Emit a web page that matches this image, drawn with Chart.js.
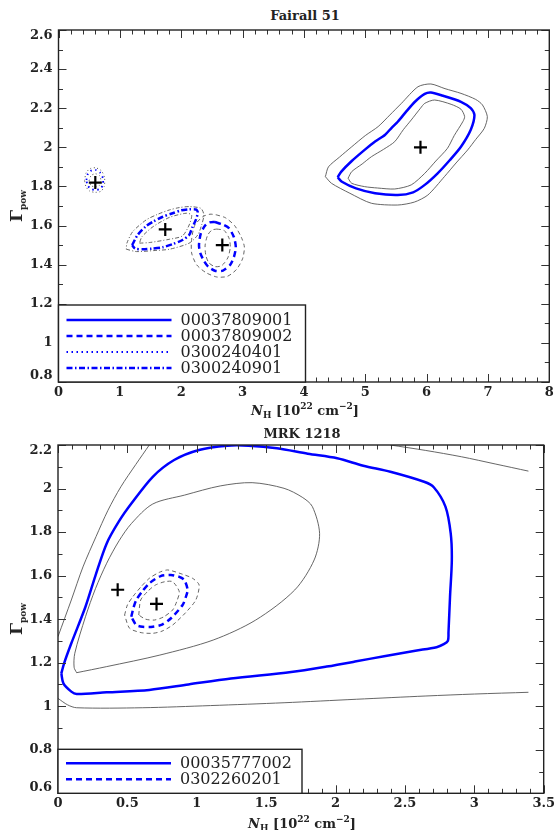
<!DOCTYPE html>
<html>
<head>
<meta charset="utf-8">
<script src="https://cdn.jsdelivr.net/npm/chart.js@4.4.0/dist/chart.umd.min.js"></script>
<style>
    body { margin: 0; background: #fff; }
    #wrap { position: relative; width: 558px; height: 830px; font-family: 'DejaVu Serif', serif; color: #222; }
    canvas { position: absolute; left: 0; }
    .lbl { position: absolute; transform: translate(-50%, -50%); white-space: nowrap; font-weight: bold; }
    .title { font-size: 13px; }
    .xlab { font-size: 13px; }
    .ylab { font-size: 17px; transform: translate(-50%, -50%) rotate(-90deg); }
    sub, sup { font-size: 9px; line-height: 0; }
</style>
</head>
<body>
<div id="wrap">
    <div class="lbl title" style="left:305px; top:15px;">Fairall 51</div>
    <canvas id="topChart" width="558" height="410" style="top:0"></canvas>
    <div class="lbl ylab" style="left:16px; top:206px;">&Gamma;<sub>pow</sub></div>
    <div class="lbl xlab" style="left:305px; top:410px;"><i>N</i><sub>H</sub> [10<sup>22</sup> cm<sup>&minus;2</sup>]</div>

    <div class="lbl title" style="left:302px; top:433px;">MRK 1218</div>
    <canvas id="bottomChart" width="558" height="420" style="top:410px"></canvas>
    <div class="lbl ylab" style="left:16px; top:619px;">&Gamma;<sub>pow</sub></div>
    <div class="lbl xlab" style="left:302px; top:823px;"><i>N</i><sub>H</sub> [10<sup>22</sup> cm<sup>&minus;2</sup>]</div>
</div>
<script>
// ---- Fairall 51 ----
const topXTicks = [0, 1, 2, 3, 4, 5, 6, 7, 8];
const topYTicks = [0.8, 1, 1.2, 1.4, 1.6, 1.8, 2, 2.2, 2.4, 2.6];
const topLegend = ['00037809001', '00037809002', '0300240401', '0300240901'];
const topBestFit = [[0.6, 1.82], [1.74, 1.58], [2.67, 1.50], [5.9, 2.0]];

// 00037809001 (solid)
const fa1Blue = [[4.55,1.847],[4.61,1.876],[4.78,1.93],[4.99,1.987],[5.16,2.03],[5.32,2.063],[5.43,2.10],[5.53,2.131],[5.66,2.18],[5.81,2.233],[5.97,2.273],[6.07,2.28],[6.25,2.265],[6.56,2.233],[6.72,2.20],[6.78,2.165],[6.72,2.09],[6.56,2.003],[6.38,1.935],[6.18,1.867],[5.97,1.808],[5.78,1.77],[5.53,1.756],[5.16,1.765],[4.85,1.79],[4.62,1.824],[4.55,1.847]];
const fa1Outer = [[4.35,1.85],[4.40,1.90],[4.58,1.95],[4.78,2.003],[5.00,2.06],[5.21,2.106],[5.40,2.165],[5.59,2.225],[5.86,2.31],[6.07,2.324],[6.30,2.30],[6.56,2.276],[6.80,2.245],[6.91,2.217],[6.99,2.157],[6.94,2.097],[6.80,2.04],[6.67,1.987],[6.48,1.92],[6.29,1.85],[6.02,1.756],[5.80,1.72],[5.53,1.705],[5.10,1.714],[4.75,1.765],[4.45,1.816],[4.35,1.85]];
const fa1Inner = [[4.72,1.842],[4.78,1.876],[4.95,1.915],[5.10,1.952],[5.30,1.99],[5.48,2.029],[5.62,2.09],[5.75,2.14],[5.90,2.20],[5.97,2.225],[6.13,2.242],[6.40,2.22],[6.56,2.195],[6.62,2.157],[6.59,2.131],[6.45,2.06],[6.34,1.995],[6.15,1.93],[5.97,1.867],[5.75,1.808],[5.48,1.787],[5.20,1.792],[4.99,1.799],[4.78,1.816],[4.72,1.842]];

// 00037809002 (dashed)
const fa2Blue = [[2.55,1.618],[2.68,1.605],[2.78,1.586],[2.86,1.54],[2.89,1.49],[2.86,1.44],[2.80,1.40],[2.68,1.37],[2.56,1.368],[2.44,1.39],[2.37,1.42],[2.31,1.46],[2.29,1.50],[2.32,1.56],[2.39,1.60],[2.46,1.616],[2.55,1.618]];
const fa2Outer = [[2.57,1.655],[2.72,1.64],[2.87,1.60],[2.98,1.54],[3.03,1.49],[3.00,1.43],[2.90,1.375],[2.75,1.34],[2.58,1.337],[2.40,1.36],[2.25,1.40],[2.17,1.46],[2.17,1.53],[2.22,1.60],[2.35,1.645],[2.47,1.658],[2.57,1.655]];
const fa2Inner = [[2.58,1.582],[2.70,1.575],[2.78,1.535],[2.80,1.49],[2.76,1.435],[2.66,1.395],[2.55,1.39],[2.45,1.41],[2.40,1.45],[2.39,1.50],[2.43,1.55],[2.50,1.577],[2.58,1.582]];

// 0300240401 (dotted)
const fa3Blue = [[0.455,1.833],[0.48,1.865],[0.54,1.882],[0.61,1.884],[0.68,1.87],[0.725,1.84],[0.72,1.805],[0.67,1.787],[0.60,1.782],[0.53,1.788],[0.475,1.805],[0.455,1.833]];
const fa3Outer = [[0.425,1.83],[0.45,1.87],[0.52,1.892],[0.61,1.895],[0.70,1.88],[0.75,1.845],[0.745,1.80],[0.69,1.775],[0.60,1.77],[0.51,1.776],[0.45,1.797],[0.425,1.83]];
const fa3Inner = [[0.50,1.83],[0.53,1.855],[0.60,1.865],[0.67,1.855],[0.69,1.83],[0.665,1.805],[0.60,1.797],[0.53,1.805],[0.50,1.83]];

// 0300240901 (dash-dot)
const fa4Blue = [[1.20,1.50],[1.29,1.552],[1.42,1.595],[1.54,1.62],[1.70,1.645],[1.86,1.663],[2.00,1.678],[2.13,1.683],[2.24,1.682],[2.27,1.668],[2.24,1.63],[2.18,1.59],[2.13,1.552],[2.02,1.526],[1.86,1.505],[1.70,1.489],[1.52,1.482],[1.375,1.479],[1.25,1.482],[1.20,1.50]];
const fa4Outer = [[1.105,1.479],[1.27,1.467],[1.55,1.472],[1.81,1.479],[2.13,1.51],[2.27,1.552],[2.33,1.60],[2.37,1.654],[2.32,1.688],[2.13,1.697],[1.97,1.692],[1.81,1.68],[1.62,1.658],[1.43,1.629],[1.21,1.569],[1.115,1.51],[1.105,1.479]];
const fa4Inner = [[1.32,1.51],[1.48,1.513],[1.81,1.53],[2.02,1.547],[2.13,1.603],[2.17,1.654],[2.08,1.663],[1.81,1.642],[1.54,1.594],[1.36,1.543],[1.32,1.51]];

// ---- MRK 1218 ----
const botXTicks = [0, 0.5, 1, 1.5, 2, 2.5, 3, 3.5];
const botYTicks = [0.6, 0.8, 1, 1.2, 1.4, 1.6, 1.8, 2, 2.2];
const botLegend = ['00035777002', '0302260201'];
const botBestFit = [[0.43, 1.535], [0.71, 1.47]];

// 00035777002 (solid)
const mk1Blue = [[0.024,1.151],[0.044,1.197],[0.096,1.289],[0.198,1.457],[0.27,1.60],[0.351,1.748],[0.44,1.85],[0.53,1.932],[0.683,2.054],[0.837,2.131],[1.016,2.177],[1.22,2.197],[1.373,2.197],[1.578,2.185],[1.80,2.16],[2.012,2.139],[2.20,2.105],[2.395,2.077],[2.638,2.031],[2.708,2.006],[2.792,1.917],[2.83,1.794],[2.838,1.672],[2.825,1.503],[2.814,1.34],[2.81,1.301],[2.78,1.285],[2.728,1.271],[2.575,1.255],[2.35,1.23],[2.14,1.205],[1.936,1.182],[1.68,1.157],[1.246,1.127],[0.94,1.10],[0.658,1.075],[0.351,1.064],[0.134,1.056],[0.096,1.067],[0.039,1.105],[0.024,1.151]];
const mk1Inner = [[0.134,1.154],[0.116,1.179],[0.121,1.243],[0.198,1.411],[0.27,1.54],[0.351,1.657],[0.44,1.76],[0.53,1.84],[0.683,1.929],[0.913,1.97],[1.169,2.012],[1.399,2.027],[1.629,2.001],[1.76,1.96],[1.833,1.917],[1.885,1.794],[1.846,1.672],[1.706,1.534],[1.425,1.396],[1.118,1.304],[0.734,1.235],[0.351,1.182],[0.134,1.154]];
const mk1OuterLeft = [[0.0,1.32],[0.096,1.488],[0.18,1.64],[0.274,1.779],[0.36,1.90],[0.453,2.008],[0.56,2.11],[0.658,2.2]];
const mk1OuterTop = [[2.395,2.2],[2.65,2.175],[2.907,2.146],[3.15,2.113],[3.39,2.08]];
const mk1OuterBottom = [[0.0,1.036],[0.07,1.006],[0.134,0.993],[0.607,0.993],[1.10,1.003],[1.629,1.016],[2.15,1.032],[2.651,1.047],[3.0,1.056],[3.39,1.064]];

// 0302260201 (dashed)
const mk2Blue = [[0.528,1.411],[0.545,1.455],[0.564,1.488],[0.61,1.53],[0.659,1.565],[0.74,1.598],[0.814,1.603],[0.87,1.595],[0.91,1.58],[0.934,1.534],[0.92,1.50],[0.898,1.465],[0.814,1.404],[0.75,1.375],[0.683,1.365],[0.61,1.365],[0.564,1.373],[0.528,1.411]];
const mk2Outer = [[0.48,1.419],[0.50,1.465],[0.539,1.503],[0.60,1.55],[0.659,1.588],[0.73,1.615],[0.79,1.626],[0.88,1.61],[0.969,1.588],[1.017,1.557],[0.993,1.488],[0.92,1.43],[0.826,1.373],[0.75,1.345],[0.683,1.335],[0.60,1.338],[0.516,1.358],[0.48,1.419]];
const mk2Inner = [[0.582,1.419],[0.596,1.488],[0.65,1.53],[0.703,1.557],[0.77,1.572],[0.826,1.572],[0.874,1.526],[0.855,1.48],[0.826,1.442],[0.76,1.41],[0.695,1.396],[0.63,1.40],[0.582,1.419]];

const BLUE = '#0000ff';
const GRAY = '#555555';
const FONT = 'DejaVu Serif';

// line styles: blue contours / thin grey contours / legend
const blueStyle = {
    solid: { w: 2.5, dash: [] },
    dashed: { w: 2.5, dash: [6, 4] },
    dotted: { w: 1.8, dash: [1.5, 3.5] },
    dashdot: { w: 2.5, dash: [6, 2.5, 1.5, 2.5] }
};
const grayStyle = {
    solid: { w: 0.9, dash: [] },
    dashed: { w: 0.9, dash: [4, 3] },
    dotted: { w: 1, dash: [1, 2.5] },
    dashdot: { w: 0.9, dash: [4, 2, 1, 2] }
};

function contour(points, style, gray, tension) {
    const s = gray ? grayStyle[style] : blueStyle[style];
    return {
        data: points.map(p => ({ x: p[0], y: p[1] })),
        showLine: true,
        pointRadius: 0,
        borderColor: gray ? GRAY : BLUE,
        borderWidth: s.w,
        borderDash: s.dash,
        fill: false,
        tension: tension === undefined ? 0.25 : tension
    };
}

function crosses(points) {
    return {
        data: points.map(p => ({ x: p[0], y: p[1] })),
        showLine: false,
        pointStyle: 'cross',
        pointRadius: 6.5,
        borderColor: '#000',
        borderWidth: 2.2
    };
}

// frame, inward ticks, y labels and the boxed legend
const framePlugin = {
    id: 'frame',
    afterDraw(chart, args, o) {
        const ctx = chart.ctx;
        const a = chart.chartArea;
        const xs = chart.scales.x;
        const ys = chart.scales.y;
        ctx.save();
        ctx.strokeStyle = '#333';
        ctx.lineWidth = 1;

        const nx = Math.round((xs.max - xs.min) / o.xMinor);
        for (let i = 0; i <= nx; i++) {
            const v = xs.min + i * o.xMinor;
            const major = Math.abs(v / o.xMajor - Math.round(v / o.xMajor)) < 1e-6;
            const len = major ? 8 : 4.5;
            const px = Math.round(xs.getPixelForValue(v)) + 0.5;
            ctx.beginPath();
            ctx.moveTo(px, a.bottom); ctx.lineTo(px, a.bottom - len);
            ctx.moveTo(px, a.top); ctx.lineTo(px, a.top + len);
            ctx.stroke();
        }
        const ny = Math.round((ys.max - ys.min) / o.yMinor);
        for (let i = 0; i <= ny; i++) {
            const v = ys.min + i * o.yMinor;
            const major = Math.abs(v / o.yMajor - Math.round(v / o.yMajor)) < 1e-6;
            const len = major ? 8 : 4.5;
            const py = Math.round(ys.getPixelForValue(v)) + 0.5;
            ctx.beginPath();
            ctx.moveTo(a.left, py); ctx.lineTo(a.left + len, py);
            ctx.moveTo(a.right, py); ctx.lineTo(a.right - len, py);
            ctx.stroke();
        }

        ctx.lineWidth = 1.4;
        ctx.strokeStyle = '#222';
        ctx.strokeRect(a.left, a.top, a.right - a.left, a.bottom - a.top);

        // y tick labels, end labels kept inside the frame
        ctx.fillStyle = '#222';
        ctx.font = 'bold 13px "' + FONT + '"';
        ctx.textAlign = 'right';
        ctx.textBaseline = 'middle';
        ys.ticks.forEach(t => {
            let py = ys.getPixelForValue(t.value);
            py = Math.min(Math.max(py, a.top + 6), a.bottom - 6);
            ctx.fillText(String(t.value), a.left - 6, py);
        });

        // legend
        const L = o.legend;
        const bx = a.left;
        const by = a.bottom - L.h;
        ctx.fillStyle = '#fff';
        ctx.fillRect(bx, by, L.w, L.h);
        ctx.lineWidth = 1.4;
        ctx.strokeStyle = '#222';
        ctx.strokeRect(bx, by, L.w, L.h);
        ctx.font = '16px "' + FONT + '"';
        ctx.textAlign = 'left';
        L.labels.forEach((lab, i) => {
            const yy = by + L.first + i * L.gap;
            const st = blueStyle[L.styles[i]];
            ctx.strokeStyle = BLUE;
            ctx.lineWidth = st.w;
            ctx.setLineDash(st.dash);
            ctx.beginPath();
            ctx.moveTo(bx + 8, yy);
            ctx.lineTo(bx + 113, yy);
            ctx.stroke();
            ctx.setLineDash([]);
            ctx.fillStyle = '#222';
            ctx.fillText(lab, bx + 122, yy + 1);
        });
        ctx.restore();
    }
};

function makeChart(id, datasets, cfg) {
    const ctx = document.getElementById(id).getContext('2d');
    return new Chart(ctx, {
        type: 'scatter',
        data: { datasets: datasets },
        plugins: [framePlugin],
        options: {
            responsive: false,
            animation: false,
            events: [],
            layout: { padding: { top: cfg.padTop, right: cfg.padRight, left: 0, bottom: 0 } },
            plugins: {
                legend: { display: false },
                tooltip: { enabled: false },
                frame: cfg.frame
            },
            scales: {
                x: {
                    type: 'linear',
                    min: cfg.xTicks[0],
                    max: cfg.xTicks[cfg.xTicks.length - 1],
                    afterBuildTicks: s => { s.ticks = cfg.xTicks.map(v => ({ value: v })); },
                    afterFit: s => { s.height = cfg.xHeight; },
                    grid: { display: false, drawTicks: false },
                    border: { display: false },
                    ticks: {
                        autoSkip: false,
                        maxRotation: 0,
                        padding: 3,
                        color: '#222',
                        font: { family: FONT, weight: 'bold', size: 13 },
                        callback: v => String(v)
                    }
                },
                y: {
                    type: 'linear',
                    min: cfg.yTicks[0],
                    max: cfg.yTicks[cfg.yTicks.length - 1],
                    afterBuildTicks: s => { s.ticks = cfg.yTicks.map(v => ({ value: v })); },
                    afterFit: s => { s.width = cfg.yWidth; },
                    grid: { display: false, drawTicks: false },
                    border: { display: false },
                    ticks: { display: false }
                }
            }
        }
    });
}

makeChart('topChart', [
    crosses(topBestFit),
    contour(fa1Blue, 'solid', false),
    contour(fa2Blue, 'dashed', false),
    contour(fa3Blue, 'dotted', false),
    contour(fa4Blue, 'dashdot', false),
    contour(fa1Outer, 'solid', true),
    contour(fa1Inner, 'solid', true),
    contour(fa2Outer, 'dashed', true),
    contour(fa2Inner, 'dashed', true),
    contour(fa3Outer, 'dotted', true),
    contour(fa3Inner, 'dotted', true),
    contour(fa4Outer, 'dashdot', true),
    contour(fa4Inner, 'dashdot', true)
], {
    xTicks: topXTicks, yTicks: topYTicks,
    padTop: 30, padRight: 6, xHeight: 28, yWidth: 58.5,
    frame: {
        xMinor: 0.2, xMajor: 1, yMinor: 0.1, yMajor: 0.2,
        legend: { labels: topLegend, styles: ['solid', 'dashed', 'dotted', 'dashdot'], w: 247, h: 77, first: 15, gap: 16 }
    }
});

makeChart('bottomChart', [
    crosses(botBestFit),
    contour(mk1Blue, 'solid', false, 0.3),
    contour(mk2Blue, 'dashed', false),
    contour(mk1Inner, 'solid', true, 0.3),
    contour(mk1OuterLeft, 'solid', true, 0.3),
    contour(mk1OuterTop, 'solid', true, 0.3),
    contour(mk1OuterBottom, 'solid', true, 0.3),
    contour(mk2Outer, 'dashed', true),
    contour(mk2Inner, 'dashed', true)
], {
    xTicks: botXTicks, yTicks: botYTicks,
    padTop: 35, padRight: 12, xHeight: 36.7, yWidth: 58,
    frame: {
        xMinor: 0.1, xMajor: 0.5, yMinor: 0.1, yMajor: 0.2,
        legend: { labels: botLegend, styles: ['solid', 'dashed'], w: 244, h: 44, first: 14, gap: 16 }
    }
});
</script>
</body>
</html>
